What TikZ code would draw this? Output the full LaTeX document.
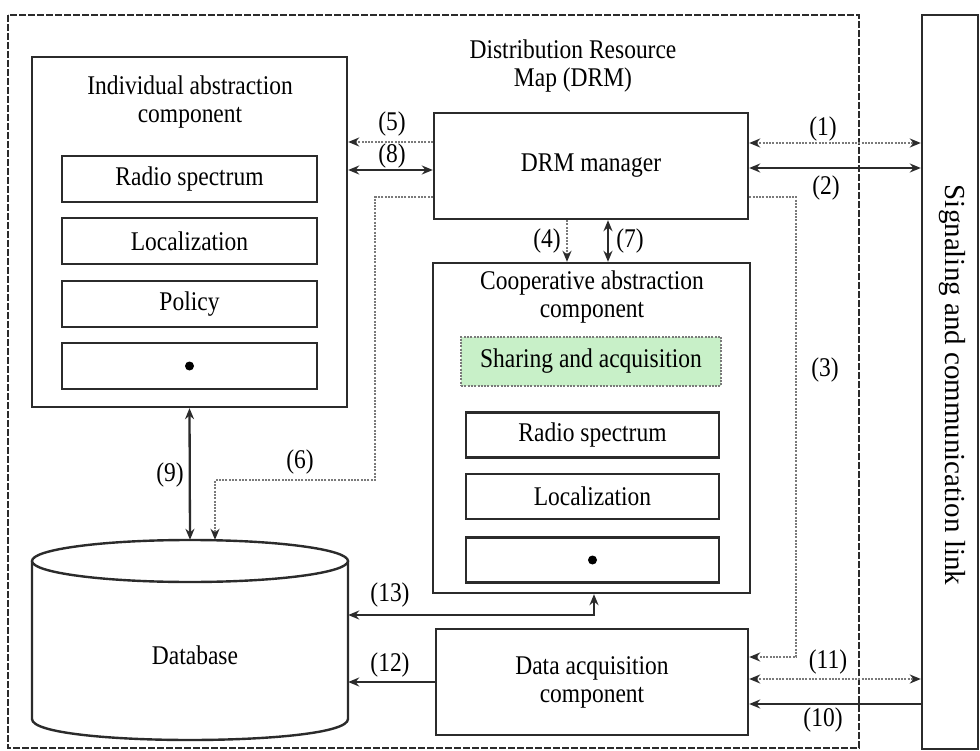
\documentclass[tikz,border=0pt]{standalone}
\usepackage{fontspec}
\setmainfont{Liberation Serif}[FakeStretch=0.87]
\newfontfamily\vfont{Liberation Serif}
\usetikzlibrary{arrows.meta}
\definecolor{boxc}{HTML}{2B2B2B}
\definecolor{dotcol}{HTML}{7A7A7A}
\definecolor{greenf}{HTML}{C8F0C8}
\begin{document}
\begin{tikzpicture}[x=1pt,y=-1pt,
  >={Stealth[length=11pt,width=9pt,color=boxc]},
  every node/.style={font=\fontsize{27}{28}\selectfont, text=black},
  box/.style={draw=boxc, line width=2.4pt, fill=white, rectangle, inner sep=0pt},
  subbox/.style={box, line width=2.2pt},
  lbl/.style={inner sep=0pt},
  solidline/.style={draw=boxc, line width=2.3pt},
  dotline/.style={draw=dotcol, line width=2.3pt, dash pattern=on 2pt off 1.3pt},
  outerdash/.style={draw=boxc, line width=2.2pt, dash pattern=on 7pt off 2pt},
  dotmark/.style={circle, fill=black, inner sep=0pt, minimum size=9pt}
]
\useasboundingbox (0,0) rectangle (980,751);

% outer dashed frame
\draw[outerdash] (8,15) rectangle (859,748);

% signaling box
\node[box, minimum width=56pt, minimum height=734pt] (sig) at (950,382) {};
\node[rotate=-90, font=\vfont\fontsize{29}{30}\selectfont] (sigt) at (952,385) {Signaling and communication link};

% title
\node[align=center] (title) at (573,66) {Distribution Resource\\Map (DRM)};

% individual abstraction component
\node[box, minimum width=315pt, minimum height=350pt] (ind) at (189.5,232) {};
\node[align=center] (indt) at (190,102) {Individual abstraction\\component};
\node[subbox, minimum width=255pt, minimum height=46pt] (ir) at (189.5,179) {Radio spectrum};
\node[subbox, minimum width=255pt, minimum height=46pt] (il) at (189.5,241) {Localization};
\node[subbox, minimum width=255pt, minimum height=46pt] (ip) at (189.5,304) {Policy};
\node[subbox, minimum width=255pt, minimum height=46pt] (id) at (189.5,366) {};
\node[dotmark] (idm) at (id.center) {};

% DRM manager
\node[box, minimum width=314pt, minimum height=106pt] (drm) at (591,166) {DRM manager};

% cooperative abstraction component
\node[box, minimum width=317pt, minimum height=330pt] (coop) at (591.5,428) {};
\node[align=center] (coopt) at (592,297.5) {Cooperative abstraction\\component};
\node[draw=dotcol, line width=2pt, dash pattern=on 2pt off 1.3pt, fill=greenf, minimum width=260pt, minimum height=49pt, inner sep=0pt] (share) at (591,361.5) {Sharing and acquisition};
\node[subbox, minimum width=253pt, minimum height=45pt] (cr) at (592.5,435) {Radio spectrum};
\node[subbox, minimum width=253pt, minimum height=45pt] (cl) at (592.5,496.5) {Localization};
\node[subbox, minimum width=253pt, minimum height=45pt] (cd) at (592.5,560) {};
\node[dotmark] (cdm) at (cd.center) {};

% data acquisition component
\node[box, minimum width=312pt, minimum height=106pt, align=center] (daq) at (592,682) {Data acquisition\\component};

% database
\node[inner sep=0pt, minimum width=316pt, minimum height=199pt] (db) at (190,639.5) {};
\draw[solidline, line width=2.4pt, fill=white] (32,561) -- (32,719) .. controls (32,747) and (348,747) .. (348,719) -- (348,561);
\draw[solidline, line width=2.4pt, fill=white] (190,561) ellipse [x radius=158pt, y radius=21pt];
\node (dbt) at (195,655) {Database};

% connectors
% (1)
\draw[dotline, <->] ([yshift=23pt]drm.east) -- ([yshift=239pt]sig.west);
% (2)
\draw[solidline, <->] ([yshift=-2pt]drm.east) -- ([yshift=214pt]sig.west);
% (3)
\draw[dotline, ->] ([yshift=-31pt]drm.east) -- (796,197) -- (796,657) -- ([yshift=25pt]daq.east);
% (4)
\draw[dotline, ->] ([xshift=-24pt]drm.south) -- ([xshift=-24.5pt]coop.north);
% (5)
\draw[dotline, ->] ([yshift=24pt]drm.west) -- ([yshift=90pt]ind.east);
% (6)
\draw[dotline, ->] ([yshift=-31pt]drm.west) -- (375,197) -- (375,480) -- (215,480) -- ([xshift=25pt]db.north);
% (7)
\draw[solidline, <->] ([xshift=17pt]drm.south) -- ([xshift=16.5pt]coop.north);
% (8)
\draw[solidline, <->] ([yshift=-4pt]drm.west) -- ([yshift=62pt]ind.east);
% (9)
\draw[solidline, <->] (ind.south) -- (db.north);
% (10)
\draw[solidline, ->] ([yshift=-322pt]sig.west) -- ([yshift=-22pt]daq.east);
% (11)
\draw[dotline, <->] ([yshift=3pt]daq.east) -- ([yshift=-297pt]sig.west);
% (12)
\draw[solidline, ->] (daq.west) -- ([yshift=-42.5pt]db.east);
% (13)
\draw[solidline, <->] ([xshift=2.5pt]coop.south) -- (594,615) -- ([yshift=24.5pt]db.east);

% labels
\node[lbl] (l1) at (823,129) {(1)};
\node[lbl] (l2) at (826,188) {(2)};
\node[lbl] (l3) at (825,370) {(3)};
\node[lbl] (l4) at (547,241) {(4)};
\node[lbl] (l5) at (392,124) {(5)};
\node[lbl] (l6) at (300,462) {(6)};
\node[lbl] (l7) at (630,241) {(7)};
\node[lbl] (l8) at (392,156) {(8)};
\node[lbl] (l9) at (170,475) {(9)};
\node[lbl] (l10) at (823,720) {(10)};
\node[lbl] (l11) at (828,662) {(11)};
\node[lbl] (l12) at (390,665) {(12)};
\node[lbl] (l13) at (390,595) {(13)};
\end{tikzpicture}
\end{document}
